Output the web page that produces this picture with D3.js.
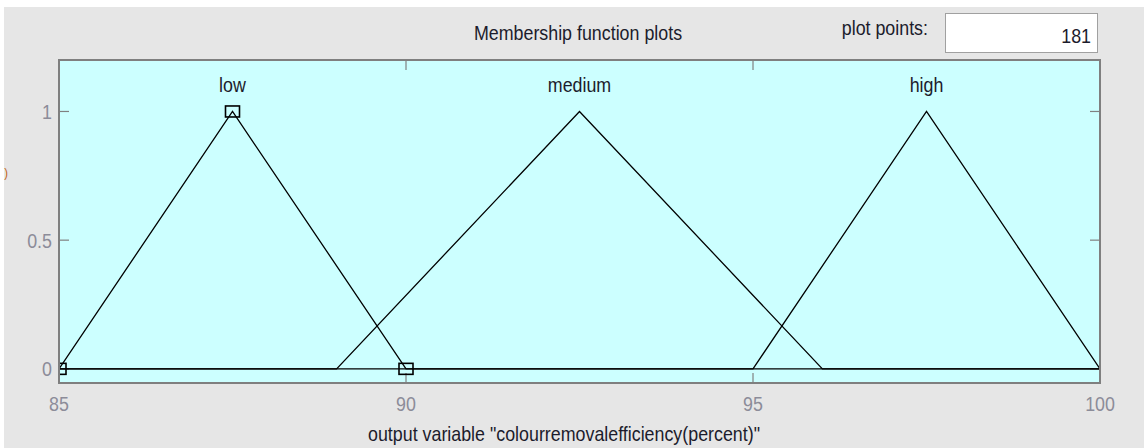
<!DOCTYPE html>
<html>
<head>
<meta charset="utf-8">
<script src="https://cdn.jsdelivr.net/npm/d3@7"></script>
<style>
  body { margin: 0; background: #fff; }
  text { font-family: "Liberation Sans", Arial, sans-serif; }
</style>
</head>
<body>
<svg width="1144" height="448"></svg>
<script>
// Membership functions (triangular: a, b, c)
const mfNames = ["low", "medium", "high"];
const mfParams = [[85, 87.5, 90], [89, 92.5, 96], [95, 97.5, 100]];
const selectedMf = 0;   // "low" is the selected one (square markers)
const xTicks = [85, 90, 95, 100];
const yTicks = [0, 0.5, 1];
const xDomain = [85, 100];
const yDomain = [-0.055, 1.2];
const plotPoints = 181;
const titleText = "Membership function plots";
const xLabelText = 'output variable "colourremovalefficiency(percent)"';

const svg = d3.select("svg");

// panel background
svg.append("rect").attr("x", 4).attr("y", 7).attr("width", 1140).attr("height", 441)
    .attr("fill", "#e6e6e6");

const plot = { left: 59, top: 60, right: 1100, bottom: 383 };

const x = d3.scaleLinear().domain(xDomain).range([plot.left, plot.right]);
const y = d3.scaleLinear().domain(yDomain).range([plot.bottom, plot.top]);

// narrow text helper (MATLAB gui font looks condensed)
function label(sel, px, py, str, opts = {}) {
    const g = sel.append("g").attr("transform", `translate(${px},${py}) scale(${opts.sx || 0.85},1)`);
    return g.append("text")
        .attr("text-anchor", opts.anchor || "middle")
        .attr("font-size", opts.size || 21)
        .attr("fill", opts.fill || "#1c1c2c")
        .text(str);
}

// axes background
svg.append("rect")
    .attr("x", plot.left).attr("y", plot.top)
    .attr("width", plot.right - plot.left).attr("height", plot.bottom - plot.top)
    .attr("fill", "#ccffff");

svg.append("clipPath").attr("id", "clip")
    .append("rect")
    .attr("x", plot.left).attr("y", plot.top)
    .attr("width", plot.right - plot.left).attr("height", plot.bottom - plot.top);

// ticks (inward, on all four sides)
const tickLen = 10;
const ticks = svg.append("g").attr("stroke", "#808080").attr("stroke-width", 1.2);
xTicks.forEach(t => {
    ticks.append("line").attr("x1", x(t)).attr("x2", x(t))
        .attr("y1", plot.bottom).attr("y2", plot.bottom - tickLen);
    ticks.append("line").attr("x1", x(t)).attr("x2", x(t))
        .attr("y1", plot.top).attr("y2", plot.top + tickLen);
});
yTicks.forEach(t => {
    ticks.append("line").attr("x1", plot.left).attr("x2", plot.left + tickLen)
        .attr("y1", y(t)).attr("y2", y(t));
    ticks.append("line").attr("x1", plot.right).attr("x2", plot.right - tickLen)
        .attr("y1", y(t)).attr("y2", y(t));
});

// membership function curves
const line = d3.line().x(d => x(d[0])).y(d => y(d[1]));
const curves = svg.append("g").attr("clip-path", "url(#clip)");

mfParams.forEach((p, i) => {
    const pts = [[xDomain[0], 0], [p[0], 0], [p[1], 1], [p[2], 0], [xDomain[1], 0]];
    curves.append("path")
        .attr("d", line(pts))
        .attr("fill", "none")
        .attr("stroke", "#000")
        .attr("stroke-width", 1.3);
});

// square markers on the selected function
const sel = mfParams[selectedMf];
[[sel[0], 0], [sel[1], 1], [sel[2], 0]].forEach(d => {
    curves.append("rect")
        .attr("x", x(d[0]) - 7).attr("y", y(d[1]) - 5.5)
        .attr("width", 14).attr("height", 11)
        .attr("fill", "none").attr("stroke", "#000").attr("stroke-width", 1.6);
});

// axes box
svg.append("rect")
    .attr("x", plot.left).attr("y", plot.top)
    .attr("width", plot.right - plot.left).attr("height", plot.bottom - plot.top)
    .attr("fill", "none").attr("stroke", "#7f7f7f").attr("stroke-width", 2);

// mf names above the peaks
mfNames.forEach((n, i) => {
    label(svg, x(mfParams[i][1]), 92, n);
});

// tick labels
xTicks.forEach(t => {
    label(svg, x(t), 411, d3.format("d")(t), { fill: "#8c8c99" });
});
yTicks.forEach(t => {
    label(svg, 52, y(t) + 7.5, String(t), { anchor: "end", fill: "#8c8c99" });
});

// titles
label(svg, 578, 40, titleText);
label(svg, 564, 441, xLabelText);

// clipped y label remnant at the far left
label(svg, 6, 177, ")", { size: 13, fill: "#c06010" });

// plot points control
label(svg, 928, 35, "plot points:", { anchor: "end" });
svg.append("rect")
    .attr("x", 945.5).attr("y", 13.5).attr("width", 152).attr("height", 39)
    .attr("fill", "#fff").attr("stroke", "#a0a0a0").attr("stroke-width", 1);
label(svg, 1091, 43, String(plotPoints), { anchor: "end" });
</script>
</body>
</html>
